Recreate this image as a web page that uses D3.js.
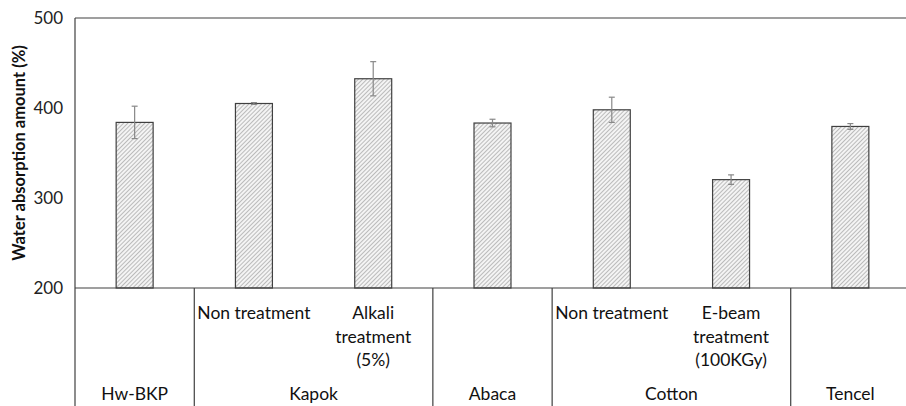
<!DOCTYPE html>
<html>
<head>
<meta charset="utf-8">
<script src="https://cdn.jsdelivr.net/npm/d3@7"></script>
<style>
  html, body { margin: 0; padding: 0; background: #fff; }
  svg { display: block; }
</style>
</head>
<body>
<script>
// Samples (x order), their group, sub-label lines, mean and error
const samples   = ["hw", "kapokNon", "kapokAlk", "abaca", "cottonNon", "cottonEb", "tencel"];
const groupOf   = ["Hw-BKP", "Kapok", "Kapok", "Abaca", "Cotton", "Cotton", "Tencel"];
const subLabels = [[], ["Non treatment"], ["Alkali", "treatment", "(5%)"], [],
                   ["Non treatment"], ["E-beam", "treatment", "(100KGy)"], []];
const values    = [384, 405, 432.5, 383.3, 398, 320.4, 379.5];
const errors    = [18, 1, 19, 4.2, 14, 5.3, 3.2];
const groups    = ["Hw-BKP", "Kapok", "Abaca", "Cotton", "Tencel"];
const yTicks    = [200, 300, 400, 500];

const W = 906, H = 406;
const plotL = 75, plotR = 910, plotT = 18, plotB = 288;
const FONT = "Lato, 'Open Sans', sans-serif";

const svg = d3.select("body").append("svg").attr("width", W).attr("height", H);

const defs = svg.append("defs");
const pat = defs.append("pattern")
  .attr("id", "hatch").attr("patternUnits", "userSpaceOnUse")
  .attr("width", 3).attr("height", 3)
  .attr("patternTransform", "rotate(45)");
pat.append("rect").attr("width", 3).attr("height", 3).attr("fill", "#f4f4f4");
pat.append("line").attr("x1", 0).attr("y1", 0).attr("x2", 0).attr("y2", 3)
  .attr("stroke", "#8c8c8c").attr("stroke-width", 1.1);

const x = d3.scaleBand().domain(samples).range([plotL, plotR]).paddingInner(0.69).paddingOuter(0.345);
const y = d3.scaleLinear().domain([200, 500]).range([plotB, plotT]);

// Y tick labels
svg.append("g").selectAll("text").data(yTicks).join("text")
  .attr("x", 63).attr("y", d => y(d)).attr("dy", "0.35em")
  .attr("text-anchor", "end")
  .attr("font-family", FONT).attr("font-size", 17)
  .attr("fill", "#222").text(d => d);

// Y axis title
svg.append("text")
  .attr("transform", `translate(19,${(plotT + plotB) / 2}) rotate(-90)`)
  .attr("text-anchor", "middle").attr("dy", "0.35em")
  .attr("font-family", FONT).attr("font-size", 16.5)
  .attr("font-weight", "bold").attr("fill", "#111")
  .text("Water absorption amount (%)");

// Bars
svg.append("g").selectAll("rect").data(samples).join("rect")
  .attr("x", d => x(d)).attr("width", x.bandwidth())
  .attr("y", (d, i) => y(values[i])).attr("height", (d, i) => y(200) - y(values[i]))
  .attr("fill", "url(#hatch)").attr("stroke", "#404040").attr("stroke-width", 1.2);

// Error bars
const eb = svg.append("g").attr("stroke", "#888").attr("stroke-width", 1.2);
samples.forEach((s, i) => {
  const cx = x(s) + x.bandwidth() / 2;
  const y1 = y(values[i] + errors[i]), y2 = y(values[i] - errors[i]);
  eb.append("line").attr("x1", cx).attr("x2", cx).attr("y1", y1).attr("y2", y2);
  eb.append("line").attr("x1", cx - 3).attr("x2", cx + 3).attr("y1", y1).attr("y2", y1);
  eb.append("line").attr("x1", cx - 3).attr("x2", cx + 3).attr("y1", y2).attr("y2", y2);
});

// Frame: top, left and baseline
const frame = svg.append("g").attr("stroke", "#404040").attr("stroke-width", 1.2).attr("fill", "none");
frame.append("line").attr("x1", plotL).attr("x2", plotR).attr("y1", plotT).attr("y2", plotT);
frame.append("line").attr("x1", plotL).attr("x2", plotL).attr("y1", plotT).attr("y2", H);
frame.append("line").attr("x1", plotL).attr("x2", plotR).attr("y1", plotB).attr("y2", plotB);

// Group dividers in the category area
const step = x.step();
const groupSpans = groups.map(g => {
  const idx = groupOf.map((v, i) => v === g ? i : -1).filter(i => i >= 0);
  const x0 = x(samples[idx[0]]) - x.paddingOuter() * step;
  return { g, x0, x1: x0 + idx.length * step };
});
svg.append("g").attr("stroke", "#404040").attr("stroke-width", 1.2).selectAll("line")
  .data(groupSpans.slice(0, -1)).join("line")
  .attr("x1", d => d.x1).attr("x2", d => d.x1).attr("y1", plotB).attr("y2", H);

// Sub-labels
const lab = svg.append("g").attr("font-family", FONT)
  .attr("font-size", 17.5).attr("fill", "#111").attr("text-anchor", "middle");
samples.forEach((s, i) => {
  const cx = x(s) + x.bandwidth() / 2;
  subLabels[i].forEach((t, k) => {
    lab.append("text").attr("x", cx).attr("y", 313 + k * 23.5).attr("dy", "0.35em").text(t);
  });
});
// Group labels
groupSpans.forEach(d => {
  lab.append("text").attr("x", (d.x0 + d.x1) / 2).attr("y", 394).attr("dy", "0.35em").text(d.g);
});
</script>
</body>
</html>
